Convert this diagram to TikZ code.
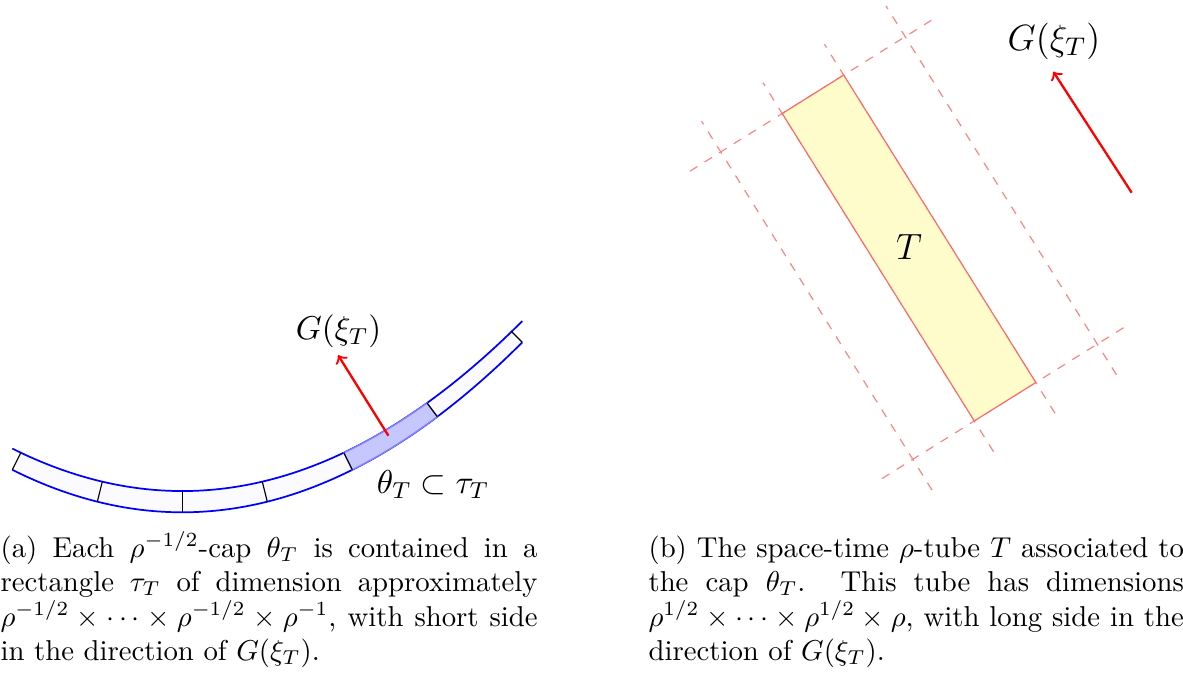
\RequirePackage{fix-cm}
\documentclass[tikz,border=0pt]{standalone}
\usepackage{amsmath}
\tikzset{
  bandline/.style={blue, line width=0.6pt},
  segline/.style={black, line width=0.4pt},
  hiband/.style={fill=blue!22, draw=blue!50, line width=0.5pt},
  gvec/.style={red, line width=0.8pt, ->},
  dashline/.style={red!50, dashed, line width=0.4pt},
  tubebox/.style={draw=red!60, fill=yellow!20, line width=0.4pt},
  lablA/.style={inner sep=0pt, font=\fontsize{11.5}{13}\selectfont},
  lablB/.style={inner sep=0pt, font=\fontsize{12.7}{15}\selectfont},
  captext/.style={inner sep=0pt, anchor=base west, font=\fontsize{10}{12}\selectfont}
}
\begin{document}
\begin{tikzpicture}[x=0.34783pt, y=-0.34783pt]
\useasboundingbox (0,0) rectangle (1183,679);

% ---------- left figure ----------
\begin{scope}[shift={(182.3,512.3)}, x=29.565pt, y=29.565pt]
  \fill[blue!2] plot[domain=-2:4,samples=100] (\x,{\x*\x/8})
     -- plot[domain=3.874:-1.8995,samples=100] (\x,{\x*\x/8+0.25}) -- cycle;
  \draw[bandline] plot[domain=-2:4,samples=120] (\x,{\x*\x/8});
  \draw[bandline] plot[domain=-2:4,samples=120] (\x,{\x*\x/8+0.25});
  \path[hiband] plot[domain=2:3,samples=30] (\x,{\x*\x/8})
     -- plot[domain=2.8791:1.8995,samples=30] (\x,{\x*\x/8+0.25}) -- cycle;
  \foreach \n/\a/\b/\c/\d in {a/-2/0.5/-1.8995/0.701, b/-1/0.125/-0.9411/0.3607,
      c/0/0/0/0.25, d/1/0.125/0.9411/0.3607, e/2/0.5/1.8995/0.701,
      f/3/1.125/2.8791/1.2862, g/4/2/3.874/2.126}{
    \coordinate (L\n) at (\a,\b);
    \coordinate (U\n) at (\c,\d);
    \draw[segline] (L\n) -- (U\n);
  }
  \coordinate (A0) at (2.425,0.90125);
  \coordinate (A1) at (1.8335,1.8477);
  \draw[gvec] (A0) -- (A1);
  \node[lablA] (GA) at (1.837,2.133) {$G(\xi_T)$};
  \node[lablA] (TH) at (2.949,0.327) {$\theta_T\subset\tau_T$};
\end{scope}

% ---------- right figure ----------
\begin{scope}[shift={(909,248)}, rotate=122]
  \foreach \v in {-108.75,-36.25,36.25,108.75}
    \draw[dashline] (-217.5,\v) -- (217.5,\v);
  \foreach \u in {-181.25,181.25}
    \draw[dashline] (\u,-145) -- (\u,145);
  \draw[tubebox] (-181.25,-36.25) rectangle (181.25,36.25);
\end{scope}
\node[lablB] (TT) at (909,247.5) {$T$};
\coordinate (B0) at (1131.7,192.7);
\coordinate (B1) at (1053.3,71.7);
\draw[gvec] (B0) -- (B1);
\node[lablB] (GB) at (1054,41) {$G(\xi_T)$};

% ---------- captions ----------
\node[captext] (CA) at (0,557) {\parbox[t]{186.8pt}{(a) Each $\rho^{-1/2}$-cap $\theta_T$ is contained in a rectangle $\tau_T$ of dimension approximately $\rho^{-1/2}\times\cdots\times\rho^{-1/2}\times\rho^{-1}$, with short side in the direction of $G(\xi_T)$.}};
\node[captext] (CB) at (648,557) {\parbox[t]{186.2pt}{(b) The space-time $\rho$-tube $T$ associated to\linebreak the cap $\theta_T$. This tube has dimensions $\rho^{1/2}\times\cdots\times\rho^{1/2}\times\rho$, with long side in the direction of $G(\xi_T)$.}};
\end{tikzpicture}
\end{document}
